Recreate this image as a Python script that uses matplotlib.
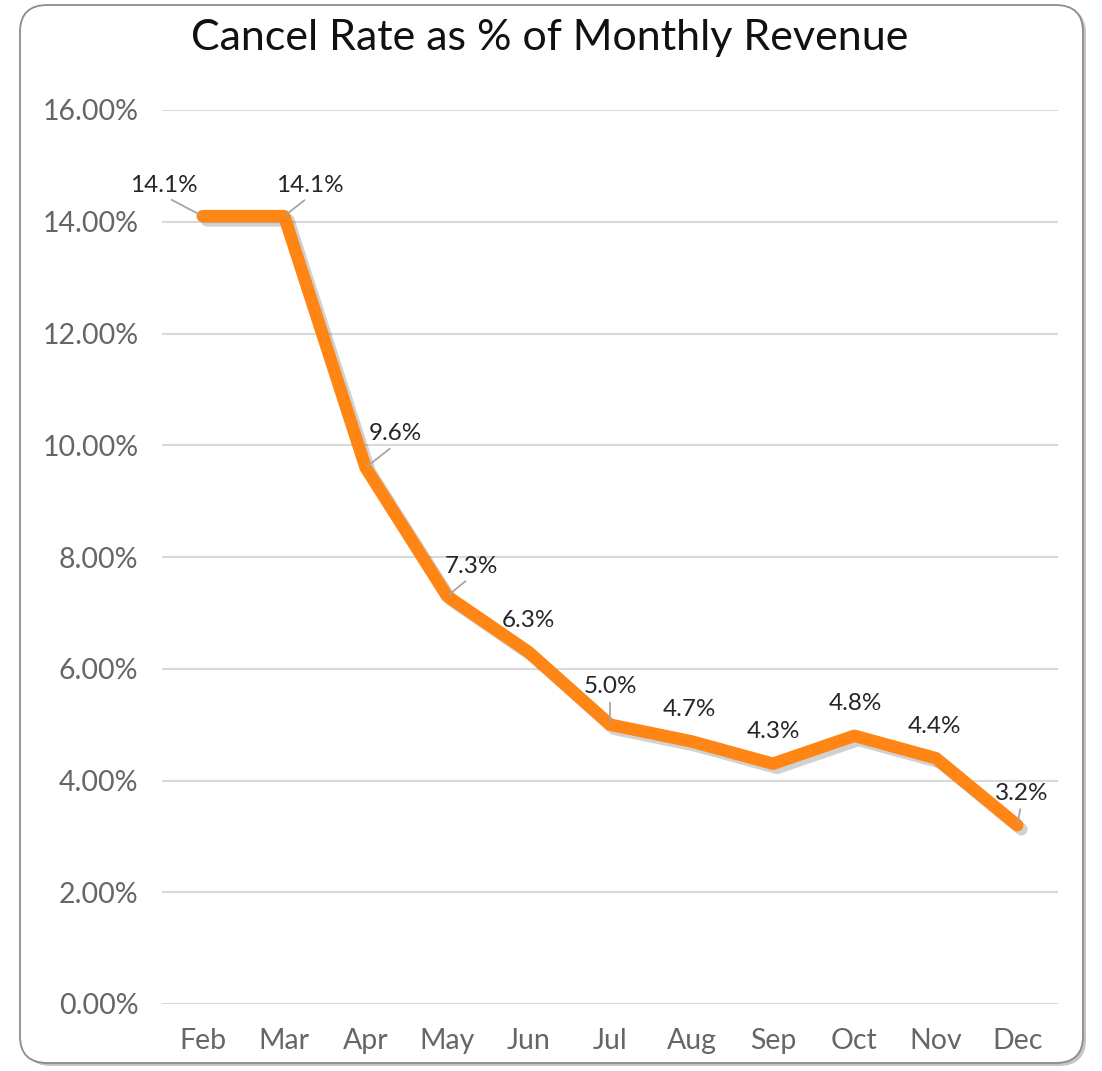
import matplotlib
matplotlib.use("Agg")
import matplotlib.pyplot as plt
from matplotlib.patches import FancyBboxPatch
import matplotlib.patheffects as pe
from matplotlib.ticker import FuncFormatter

months = ["Feb", "Mar", "Apr", "May", "Jun", "Jul", "Aug", "Sep", "Oct", "Nov", "Dec"]
rates = [14.1, 14.1, 9.6, 7.3, 6.3, 5.0, 4.7, 4.3, 4.8, 4.4, 3.2]
labels = ["14.1%", "14.1%", "9.6%", "7.3%", "6.3%", "5.0%", "4.7%", "4.3%", "4.8%", "4.4%", "3.2%"]
yticks = [0, 2, 4, 6, 8, 10, 12, 14, 16]

# label offsets in pixels (dx, dy up), and whether a leader line is shown
offsets = [(-39, 31), (26, 31), (30, 34), (24, 30), (0, 31), (0, 38), (-2, 32), (1, 32), (1, 32), (-1, 32), (4, 32)]
leaders = [True, True, True, True, False, True, False, False, False, False, True]

plt.rcParams['font.family'] = ['Lato', 'DejaVu Sans']

W, H = 1102, 1071
fig = plt.figure(figsize=(W / 100, H / 100), dpi=100)
fig.patch.set_facecolor("white")

# rounded border with shadow
shadow = FancyBboxPatch((24 / W, 5 / H), (1086 - 24) / W, (1064 - 5) / H,
                        boxstyle="round,pad=0,rounding_size=0.025", transform=fig.transFigure,
                        facecolor="#c4c4c4", edgecolor="none", zorder=-3)
fig.patches.append(shadow)
border = FancyBboxPatch((20 / W, 8 / H), (1083 - 20) / W, (1066 - 8) / H,
                        boxstyle="round,pad=0,rounding_size=0.025", transform=fig.transFigure,
                        facecolor="white", edgecolor="#8c8c8c", linewidth=1.3, zorder=-2)
fig.patches.append(border)

ax = fig.add_axes([162 / W, (H - 1004) / H, (1058 - 162) / W, (1004 - 110) / H])
ax.set_facecolor("none")
x = list(range(len(months)))
ax.plot(x, rates, color="#FF8514", linewidth=9, solid_capstyle="round", solid_joinstyle="round",
        zorder=3,
        path_effects=[pe.SimpleLineShadow(offset=(3, -3), shadow_color="black", alpha=0.18),
                      pe.Normal()])

ax.set_xlim(-0.5, len(months) - 0.5)
ax.set_ylim(0, 16)
ax.set_yticks(yticks)
ax.yaxis.set_major_formatter(FuncFormatter(lambda v, p: f"{v:.2f}%"))
ax.set_xticks(x)
ax.set_xticklabels(months)
ax.grid(axis="y", color="#d9d9d9", linewidth=1.5)
ax.set_axisbelow(True)
for s in ax.spines.values():
    s.set_visible(False)
ax.tick_params(axis="both", length=0, labelsize=20.5, colors="#666666")
ax.tick_params(axis="y", pad=17)
ax.tick_params(axis="x", pad=17)

for i, (v, lab) in enumerate(zip(rates, labels)):
    dx, dy = offsets[i]
    ap = None
    if leaders[i]:
        ap = dict(arrowstyle="-", color="#a6a6a6", linewidth=1.3, shrinkA=2, shrinkB=2,
                  relpos=(0.5, 0.0))
    ax.annotate(lab, xy=(i, v), xytext=(dx * 0.72, dy * 0.72), textcoords="offset points",
                ha="center", va="center", fontsize=17.5, color="#262626",
                arrowprops=ap, zorder=4)

fig.text(550 / W, 1 - 38 / H, "Cancel Rate as % of Monthly Revenue", ha="center", va="center",
         fontsize=31, color="#111111")

fig.savefig("out.png", dpi=100)
